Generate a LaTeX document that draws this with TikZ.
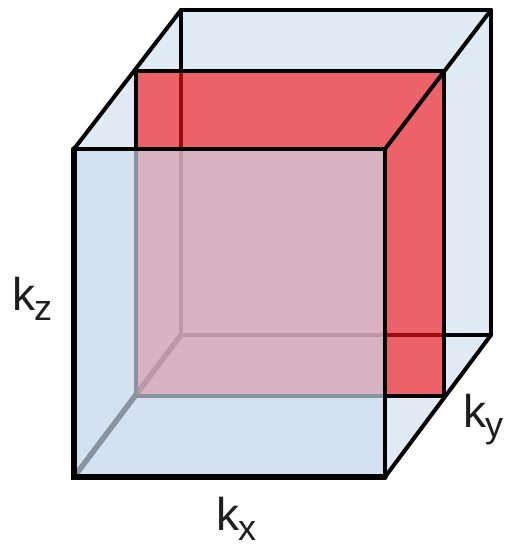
\documentclass[tikz,border=0pt]{standalone}
\usepackage{fontspec}
\setmainfont{Liberation Sans}
\definecolor{backblue}{RGB}{224,234,245}
\definecolor{planered}{RGB}{245,20,25}
\definecolor{frontblue}{RGB}{207,222,240}
\definecolor{labelgrey}{RGB}{30,30,30}
\tikzset{
  edgeline/.style={draw=black,line width=4pt,line join=round,line cap=round},
  thickedge/.style={draw=black,line width=5.5pt,line cap=round},
  axislabel/.style={inner sep=0pt,text=labelgrey,font=\fontsize{46}{46}\selectfont}
}
\newcommand{\axlab}[2]{#1\kern-1pt\raisebox{-10pt}{\fontsize{36}{36}\selectfont #2}}
\begin{document}
\begin{tikzpicture}[x=1pt,y=-1pt]
\useasboundingbox (0,0) rectangle (509,548);
% front square
\coordinate (fa) at (74,149); \coordinate (fb) at (385,149);
\coordinate (fc) at (385,477); \coordinate (fd) at (74,477);
% back square
\coordinate (ba) at (181,10); \coordinate (bb) at (491,10);
\coordinate (bc) at (491,335); \coordinate (bd) at (181,335);
% middle plane
\coordinate (ma) at (136,71); \coordinate (mb) at (444,71);
\coordinate (mc) at (444,396); \coordinate (md) at (136,396);
% silhouette
\fill[backblue] (fa) -- (ba) -- (bb) -- (bc) -- (fc) -- (fd) -- cycle;
% back edges
\draw[edgeline] (ba) -- (bb) -- (bc) -- (bd) -- cycle;
\draw[thickedge] (bd) -- (fd);
% plane
\fill[planered,fill opacity=.64] (ma) -- (mb) -- (mc) -- (md) -- cycle;
\draw[edgeline] (ma) -- (mb) -- (mc) -- (md) -- cycle;
% front face
\fill[frontblue,fill opacity=.67] (fa) -- (fb) -- (fc) -- (fd) -- cycle;
\draw[edgeline] (fa) -- (fb) -- (fc);
\draw[thickedge] (fc) -- (fd) -- (fa);
\draw[edgeline] (fa) -- (ba);
\draw[edgeline] (fb) -- (bb);
\draw[edgeline] (fc) -- (bc);
% labels
\node[axislabel,anchor=base west] (kz) at (12,310) {\axlab{k}{z}};
\node[axislabel,anchor=base west] (kx) at (216,530) {\axlab{k}{x}};
\node[axislabel,anchor=base west] (ky) at (463,427) {\axlab{k}{y}};
\end{tikzpicture}
\end{document}
